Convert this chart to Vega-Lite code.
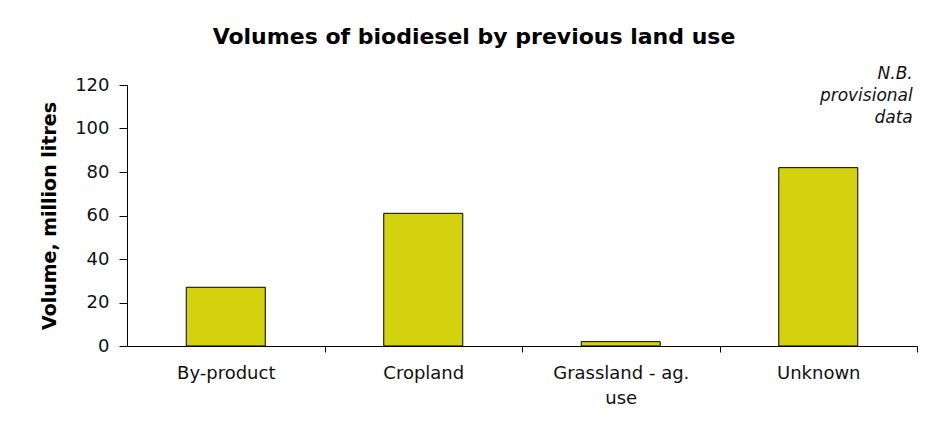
{
  "$schema": "https://vega.github.io/schema/vega-lite/v6.json",
  "autosize": {"type": "none"},
  "width": 790,
  "height": 261,
  "padding": {"left": 127, "top": 85, "right": 8, "bottom": 81},
  "background": "white",
  "config": {
    "view": {"stroke": null},
    "font": "DejaVu Sans"
  },
  "title": {
    "text": "Volumes of biodiesel by previous land use",
    "font": "DejaVu Sans",
    "fontSize": 22,
    "fontWeight": "bold",
    "color": "#000000",
    "anchor": "middle",
    "frame": "group",
    "dx": -48,
    "offset": 16
  },
  "data": {
    "values": [
      {"use": "By-product", "volume": 27},
      {"use": "Cropland", "volume": 61},
      {"use": "Grassland - ag. use", "volume": 2},
      {"use": "Unknown", "volume": 82}
    ]
  },
  "resolve": {"axis": {"x": "independent", "y": "independent"}},
  "layer": [
    {
      "mark": {"type": "bar", "color": "#D4D10E", "stroke": "#000000", "strokeWidth": 1},
      "encoding": {
        "x": {
          "field": "use",
          "type": "nominal",
          "sort": null,
          "scale": {"paddingInner": 0.6, "paddingOuter": 0.3},
          "axis": {
            "title": null,
            "labelAngle": 0,
            "labelFont": "DejaVu Sans",
            "labelFontSize": 18,
            "labelColor": "#111111",
            "labelPadding": 12,
            "labelLineHeight": 25,
            "labelOffset": -98.75,
            "labelExpr": "datum.value == 'Grassland - ag. use' ? ['Grassland - ag.', 'use'] : datum.label",
            "ticks": true,
            "tickOffset": 98.75,
            "tickSize": 6,
            "tickWidth": 1,
            "tickColor": "#000000",
            "domainColor": "#000000",
            "grid": false
          }
        },
        "y": {
          "field": "volume",
          "type": "quantitative",
          "scale": {"domain": [0, 120], "nice": false},
          "axis": {
            "title": "Volume, million litres",
            "titleFont": "DejaVu Sans",
            "titleFontSize": 19,
            "titleFontWeight": "bold",
            "titleColor": "#000000",
            "titlePadding": 15,
            "values": [0, 20, 40, 60, 80, 100, 120],
            "labelFont": "DejaVu Sans",
            "labelFontSize": 18,
            "labelColor": "#111111",
            "labelPadding": 10,
            "tickSize": 8,
            "tickColor": "#000000",
            "domainColor": "#000000",
            "grid": false
          }
        }
      }
    },
    {
      "data": {"values": [{"note": ["N.B.", "provisional", "data"], "use": "Unknown", "volume": 120}]},
      "mark": {
        "type": "text",
        "align": "right",
        "baseline": "top",
        "font": "DejaVu Sans",
        "fontSize": 17,
        "fontStyle": "italic",
        "color": "#111111",
        "lineHeight": 22,
        "dx": 55,
        "dy": -19
      },
      "encoding": {
        "x": {"field": "use", "type": "nominal", "sort": null, "bandPosition": 1, "axis": null},
        "y": {"field": "volume", "type": "quantitative", "axis": null},
        "text": {"field": "note"}
      }
    }
  ]
}
